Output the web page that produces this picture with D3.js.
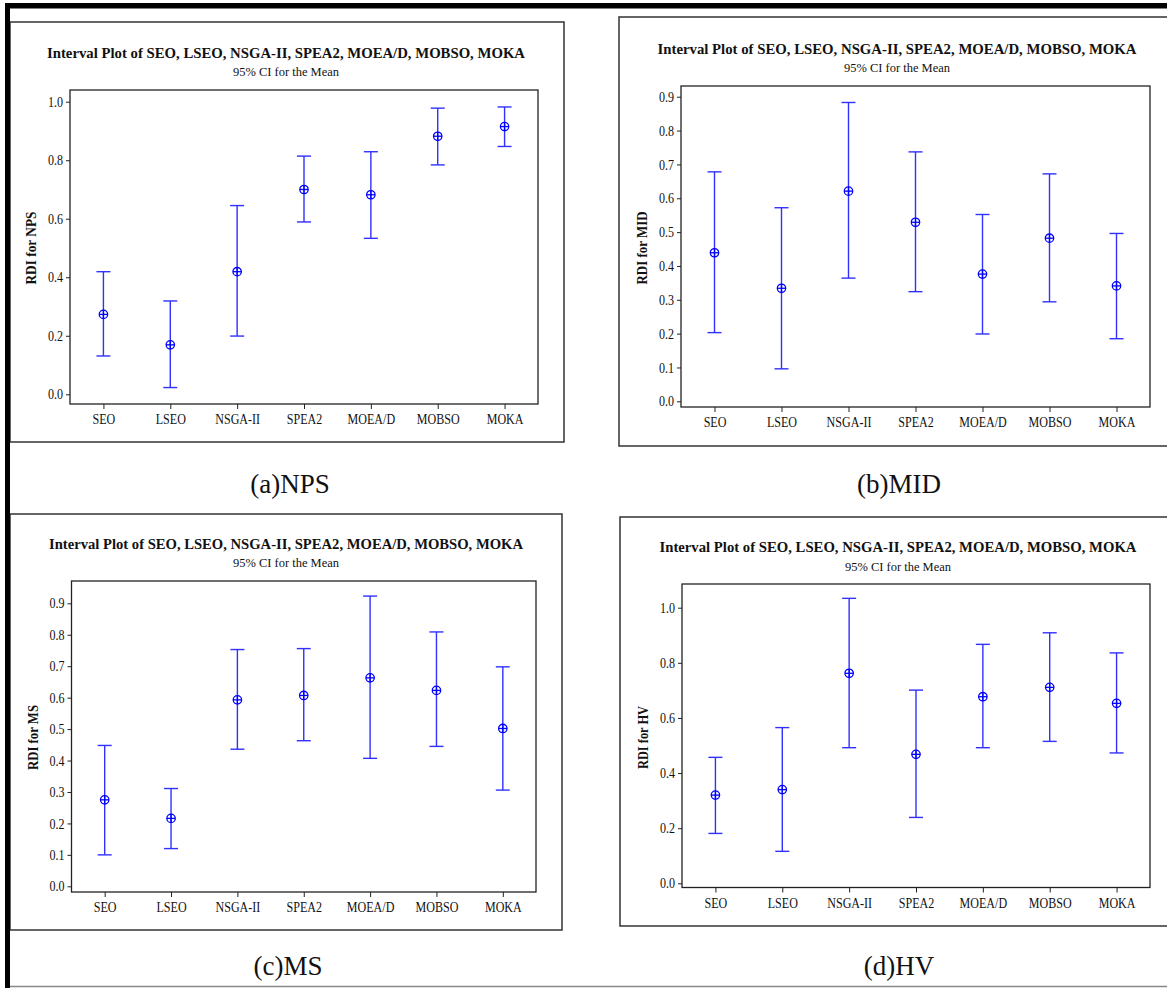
<!DOCTYPE html>
<meta charset="utf-8">
<style>
body { margin: 0; background: #fff; }
text { font-family: "Liberation Serif", "DejaVu Serif", serif; fill: #111; }
.bar { stroke: #3030ff; stroke-width: 1.4px; fill: none; }
.mark { stroke: #0000ff; stroke-width: 1.3px; fill: none; }
</style>
<body>
<script src="https://d3js.org/d3.v7.min.js"></script>
<script>

// categories and interval values (mean, lower / upper 95% CI)
var categories = ["SEO", "LSEO", "NSGA-II", "SPEA2", "MOEA/D", "MOBSO", "MOKA"];

var npsMean  = [0.273, 0.169, 0.419, 0.700, 0.682, 0.882, 0.915];
var npsLower = [0.131, 0.023, 0.199, 0.589, 0.533, 0.784, 0.847];
var npsUpper = [0.419, 0.319, 0.645, 0.814, 0.829, 0.978, 0.982];

var midMean  = [0.439, 0.334, 0.621, 0.529, 0.376, 0.482, 0.341];
var midLower = [0.203, 0.096, 0.364, 0.324, 0.199, 0.294, 0.185];
var midUpper = [0.678, 0.572, 0.883, 0.737, 0.552, 0.672, 0.496];

var msMean  = [0.275, 0.216, 0.593, 0.607, 0.663, 0.623, 0.502];
var msLower = [0.100, 0.120, 0.436, 0.463, 0.407, 0.445, 0.306];
var msUpper = [0.448, 0.311, 0.753, 0.756, 0.923, 0.809, 0.698];

var hvMean  = [0.320, 0.340, 0.762, 0.468, 0.677, 0.711, 0.653];
var hvLower = [0.181, 0.116, 0.492, 0.239, 0.492, 0.515, 0.473];
var hvUpper = [0.457, 0.565, 1.034, 0.701, 0.867, 0.909, 0.836];

// tick labels
var ticksFifths = [0.0, 0.2, 0.4, 0.6, 0.8, 1.0];
var ticksTenths = [0.0, 0.1, 0.2, 0.3, 0.4, 0.5, 0.6, 0.7, 0.8, 0.9];

var titleText = "Interval Plot of SEO, LSEO, NSGA-II, SPEA2, MOEA/D, MOBSO, MOKA";
var subtitleText = "95% CI for the Mean";
var yLabels = ["RDI for NPS", "RDI for MID", "RDI for MS", "RDI for HV"];
var captions = ["(a)NPS", "(b)MID", "(c)MS", "(d)HV"];

// panel layout
var panels = [
  {mean: npsMean, lo: npsLower, hi: npsUpper, ticks: ticksFifths, domain: [-0.0332, 1.04],
   frame: [10, 22, 564, 442], plot: [70, 538, 90, 404], cx: 286, titleY: 58, subY: 75.5, titleLen: 478,
   yl: [36, 248, 73], cap: [290, 493]},
  {mean: midMean, lo: midLower, hi: midUpper, ticks: ticksTenths, domain: [-0.0168, 0.9317],
   frame: [619, 17, 1185, 446], plot: [681, 1150, 86, 407], cx: 897, titleY: 54, subY: 72, titleLen: 479,
   yl: [647, 248, 73], cap: [899, 493]},
  {mean: msMean, lo: msLower, hi: msUpper, ticks: ticksTenths, domain: [-0.0181, 0.971],
   frame: [10, 514, 562, 930], plot: [71.5, 536, 581, 892], cx: 286, titleY: 549, subY: 567, titleLen: 474,
   yl: [38, 737.5, 65], cap: [288, 975]},
  {mean: hvMean, lo: hvLower, hi: hvUpper, ticks: ticksFifths, domain: [-0.0152, 1.086],
   frame: [620, 517, 1185, 926], plot: [682, 1150, 584, 887.5], cx: 898, titleY: 552, subY: 570.5, titleLen: 477,
   yl: [648, 737.5, 63], cap: [899, 975]}
];

var svg = d3.select("body").append("svg")
    .attr("width", 1167)
    .attr("height", 988);

// squeeze text horizontally like the narrow original font
function squeeze(sel, k) {
  sel.each(function() {
    var w = this.getComputedTextLength();
    d3.select(this).attr("textLength", w * k).attr("lengthAdjust", "spacingAndGlyphs");
  });
}

panels.forEach(function(p, i) {
  var g = svg.append("g");

  // outer frame of the panel
  g.append("rect")
      .attr("x", p.frame[0]).attr("y", p.frame[1])
      .attr("width", p.frame[2] - p.frame[0]).attr("height", p.frame[3] - p.frame[1])
      .attr("fill", "none").attr("stroke", "#333").attr("stroke-width", 1.5);

  var x = d3.scalePoint().domain(categories).range([p.plot[0], p.plot[1]]).padding(0.5);
  var y = d3.scaleLinear().domain(p.domain).range([p.plot[3], p.plot[2]]);

  // titles
  g.append("text")
      .attr("x", p.cx).attr("y", p.titleY)
      .attr("text-anchor", "middle")
      .attr("font-family", "Liberation Serif")
      .attr("font-size", "15px").attr("font-weight", "bold")
      .attr("textLength", p.titleLen).attr("lengthAdjust", "spacingAndGlyphs")
      .text(titleText);
  g.append("text")
      .attr("x", p.cx).attr("y", p.subY)
      .attr("text-anchor", "middle")
      .attr("font-family", "Liberation Serif")
      .attr("font-size", "13.5px")
      .attr("textLength", 106).attr("lengthAdjust", "spacingAndGlyphs")
      .text(subtitleText);

  // axes
  var xa = g.append("g")
      .attr("transform", "translate(0," + p.plot[3] + ")")
      .call(d3.axisBottom(x).tickSize(5).tickPadding(5));
  var ya = g.append("g")
      .attr("transform", "translate(" + p.plot[0] + ",0)")
      .call(d3.axisLeft(y).tickValues(p.ticks).tickFormat(d3.format(".1f")).tickSize(4).tickPadding(3));
  [xa, ya].forEach(function(a) {
    a.select(".domain").remove();
    a.selectAll(".tick line").attr("stroke", "#222");
    a.selectAll("text")
        .attr("font-family", "Liberation Serif")
        .attr("font-size", "14.5px")
        .attr("fill", "#111");
    squeeze(a.selectAll("text"), 0.83);
  });

  // plot box
  g.append("rect")
      .attr("x", p.plot[0]).attr("y", p.plot[2])
      .attr("width", p.plot[1] - p.plot[0]).attr("height", p.plot[3] - p.plot[2])
      .attr("fill", "none").attr("stroke", "#222").attr("stroke-width", 1.3);

  // y axis label
  g.append("text")
      .attr("transform", "translate(" + p.yl[0] + "," + p.yl[1] + ") rotate(-90)")
      .attr("text-anchor", "middle")
      .attr("font-family", "Liberation Serif")
      .attr("font-size", "15px").attr("font-weight", "bold")
      .attr("textLength", p.yl[2]).attr("lengthAdjust", "spacingAndGlyphs")
      .text(yLabels[i]);

  // interval bars
  var bars = g.selectAll(".iv")
      .data(categories.map(function(c, j) { return {c: c, m: p.mean[j], lo: p.lo[j], hi: p.hi[j]}; }))
      .enter().append("g");
  bars.append("line").attr("class", "bar")
      .attr("x1", function(d) { return x(d.c); }).attr("x2", function(d) { return x(d.c); })
      .attr("y1", function(d) { return y(d.hi); }).attr("y2", function(d) { return y(d.lo); });
  ["hi", "lo"].forEach(function(k) {
    bars.append("line").attr("class", "bar")
        .attr("x1", function(d) { return x(d.c) - 7; }).attr("x2", function(d) { return x(d.c) + 7; })
        .attr("y1", function(d) { return y(d[k]); }).attr("y2", function(d) { return y(d[k]); });
  });
  bars.append("circle").attr("class", "mark")
      .attr("cx", function(d) { return x(d.c); })
      .attr("cy", function(d) { return y(d.m); })
      .attr("r", 4.2)
      .attr("fill", "#fff");
  bars.append("line").attr("class", "mark")
      .attr("x1", function(d) { return x(d.c) - 4.2; }).attr("x2", function(d) { return x(d.c) + 4.2; })
      .attr("y1", function(d) { return y(d.m); }).attr("y2", function(d) { return y(d.m); });
  bars.append("line").attr("class", "mark")
      .attr("x1", function(d) { return x(d.c); }).attr("x2", function(d) { return x(d.c); })
      .attr("y1", function(d) { return y(d.m) - 4.2; }).attr("y2", function(d) { return y(d.m) + 4.2; });

  // caption under the panel
  svg.append("text")
      .attr("x", p.cap[0]).attr("y", p.cap[1])
      .attr("text-anchor", "middle")
      .attr("font-family", "Liberation Serif")
      .attr("font-size", "27px")
      .text(captions[i]);
});

// page borders
svg.append("rect").attr("x", 5).attr("y", 3).attr("width", 1162).attr("height", 5.5).attr("fill", "#000");
svg.append("rect").attr("x", 5).attr("y", 3).attr("width", 5).attr("height", 985).attr("fill", "#000");
svg.append("line").attr("x1", 10).attr("x2", 1167).attr("y1", 986.5).attr("y2", 986.5)
    .attr("stroke", "#888").attr("stroke-width", 1.5);

</script>
